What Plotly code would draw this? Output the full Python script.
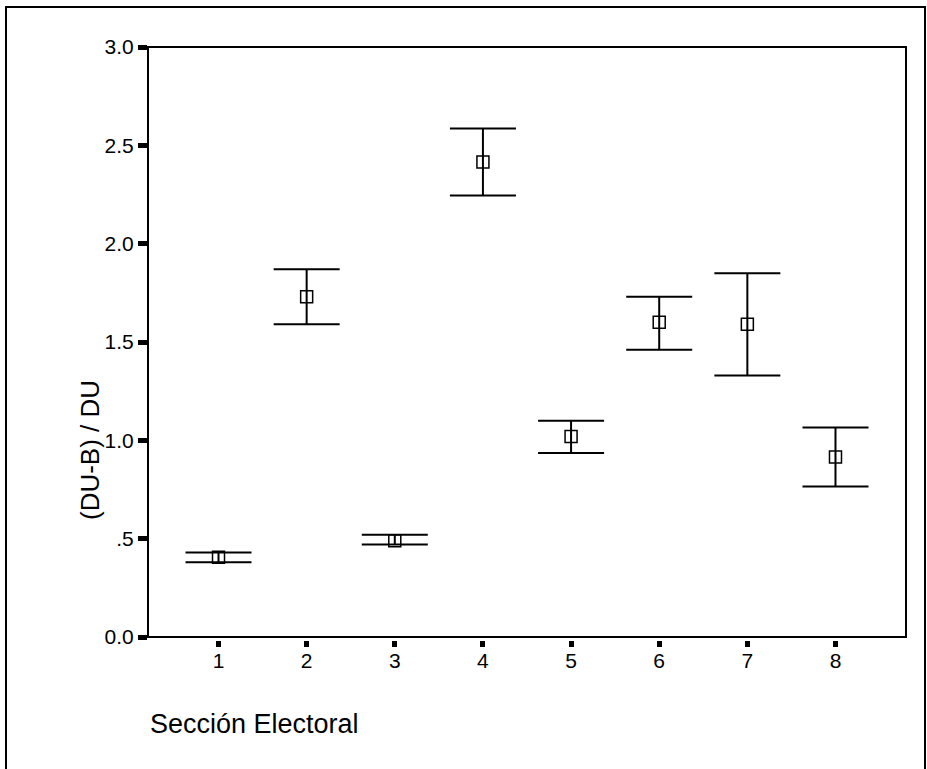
import plotly.graph_objects as go

# Data
seccion = [1, 2, 3, 4, 5, 6, 7, 8]
media = [0.405, 1.73, 0.49, 2.415, 1.02, 1.60, 1.59, 0.915]
limite_sup = [0.43, 1.87, 0.52, 2.585, 1.10, 1.73, 1.85, 1.065]
limite_inf = [0.38, 1.59, 0.47, 2.245, 0.935, 1.46, 1.33, 0.765]
y_ticks = [0.0, 0.5, 1.0, 1.5, 2.0, 2.5, 3.0]
y_tick_text = ["0.0", ".5", "1.0", "1.5", "2.0", "2.5", "3.0"]

err_plus = [u - m for u, m in zip(limite_sup, media)]
err_minus = [m - l for m, l in zip(media, limite_inf)]

FONT = "Liberation Sans, Arial, sans-serif"

fig = go.Figure()
fig.add_trace(go.Scatter(
    x=seccion, y=media, mode="markers",
    marker=dict(symbol="square-open", size=12, color="black",
                line=dict(width=1.5, color="black")),
    error_y=dict(type="data", symmetric=False, array=err_plus,
                 arrayminus=err_minus, color="black", thickness=2, width=33),
    showlegend=False, hoverinfo="skip",
))

W, H = 927, 769
L, R, T, B = 148, 906, 47, 640
pw, ph = R - L, B - T

fig.update_layout(
    width=W, height=H,
    margin=dict(l=L, r=W - R, t=T, b=H - B, pad=0),
    paper_bgcolor="white", plot_bgcolor="white",
    font=dict(family=FONT, color="black", size=21),
    xaxis=dict(
        range=[0.2, 8.8], tickvals=seccion, ticktext=[str(s) for s in seccion],
        ticks="outside", ticklen=6, tickwidth=5, tickcolor="black",
        showline=False, showgrid=False, zeroline=False,
        anchor="free", position=0,
        tickfont=dict(size=21, family=FONT, color="black"),
        ticklabelstandoff=-4,
    ),
    yaxis=dict(
        range=[0, 3], tickvals=y_ticks, ticktext=y_tick_text,
        domain=[3 / ph, 1],
        ticks="outside", ticklen=9, tickwidth=5, tickcolor="black",
        showline=False, showgrid=False, zeroline=False,
        tickfont=dict(size=21, family=FONT, color="black"),
    ),
    shapes=[
        dict(type="rect", xref="x domain", yref="y domain", x0=0, x1=1, y0=0, y1=1,
             line=dict(color="black", width=2), fillcolor="rgba(0,0,0,0)", layer="above"),
        dict(type="rect", xref="paper", yref="paper",
             x0=(6 - L) / pw, x1=(925 - L) / pw,
             y0=(B - 800) / ph, y1=(B - 7) / ph,
             line=dict(color="black", width=2), fillcolor="rgba(0,0,0,0)"),
    ],
    annotations=[
        dict(text="(DU-B) / DU", textangle=-90, xref="paper", yref="paper",
             x=(90 - L) / pw, y=(B - 450) / ph, xanchor="center", yanchor="middle",
             showarrow=False, font=dict(size=26, family=FONT, color="black")),
        dict(text="Sección Electoral", xref="paper", yref="paper",
             x=0, y=(B - 724) / ph, xanchor="left", yanchor="middle",
             showarrow=False, font=dict(size=27, family=FONT, color="black")),
    ],
)

fig.write_html("out.html")
